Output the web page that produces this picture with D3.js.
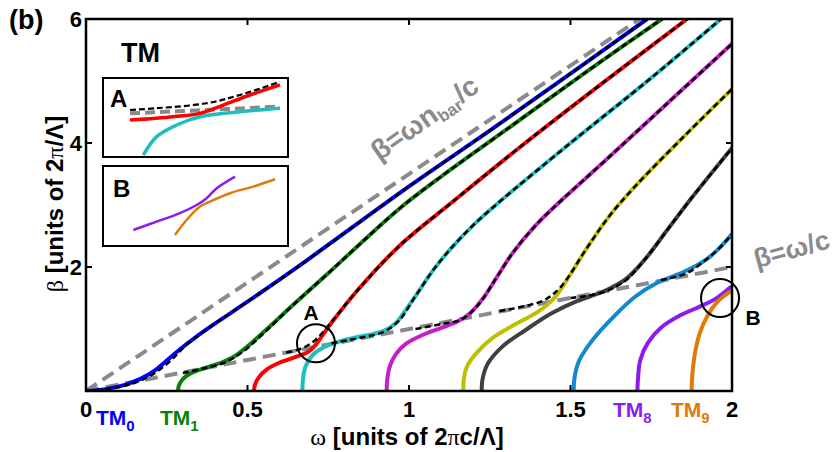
<!DOCTYPE html>
<html><head><meta charset="utf-8">
<script src="https://cdn.jsdelivr.net/npm/d3@7"></script>
<style>body{margin:0;background:#fff}svg{display:block}text{font-family:"Liberation Sans",Arial,sans-serif;font-weight:bold}</style>
</head><body>
<svg id="c" width="839" height="452"></svg>
<script>
// ---- data ----
const xTicks = [0, 0.5, 1, 1.5, 2];
const xTickLabels = ["0", "0.5", "1", "1.5", "2"];
const yTicks = [2, 4, 6];
const yTickLabels = ["2", "4", "6"];
const nBar = 3.5;
const modeColors = ["#0000ff","#0a800a","#ff0000","#1fbfbf","#c81ec8","#bfbf00","#404040","#1188d0","#8a1cf0","#e07a0a"];
const mode0 = [[0,0],[0.06,0.03],[0.12,0.1],[0.17,0.2],[0.21,0.32],[0.25,0.49],[0.29,0.67],[0.34,0.87],[0.4,1.09],[0.5,1.44],[0.663,2.03],[1.0,3.3],[1.25,4.2],[1.5,5.12],[1.737,6]];
const mode1 = [[0.285,0],[0.287,0.08],[0.295,0.16],[0.31,0.24],[0.34,0.32],[0.38,0.39],[0.42,0.46],[0.46,0.56],[0.50,0.72],[0.55,0.95],[0.65,1.43],[0.75,1.9],[0.85,2.38],[0.97,2.94],[1.1,3.46],[1.3,4.21],[1.55,5.15],[1.783,6]];
const mode2 = [[0.52,0],[0.523,0.1],[0.535,0.22],[0.56,0.35],[0.6,0.46],[0.65,0.55],[0.69,0.64],[0.715,0.77],[0.735,0.92],[0.76,1.1],[0.84,1.62],[0.97,2.34],[1.137,3.06],[1.35,3.96],[1.6,4.97],[1.861,6]];
const mode3 = [[0.67,0],[0.672,0.2],[0.68,0.4],[0.70,0.57],[0.735,0.7],[0.786,0.8],[0.84,0.87],[0.89,0.92],[0.93,0.99],[0.96,1.1],[0.985,1.27],[1.02,1.53],[1.075,1.95],[1.13,2.3],[1.2,2.68],[1.282,3.06],[1.5,4.0],[1.75,5.05],[1.966,6]];
const mode4 = [[0.931,0],[0.933,0.2],[0.942,0.42],[0.96,0.6],[0.99,0.76],[1.04,0.9],[1.1,1.02],[1.15,1.12],[1.19,1.26],[1.23,1.5],[1.27,1.82],[1.32,2.22],[1.39,2.66],[1.477,3.1],[1.6,3.68],[1.8,4.64],[2.0,5.6]];
const mode5 = [[1.168,0],[1.17,0.2],[1.18,0.4],[1.21,0.62],[1.26,0.86],[1.33,1.08],[1.40,1.28],[1.45,1.5],[1.49,1.8],[1.55,2.3],[1.62,2.82],[1.7,3.3],[1.85,4.1],[2.0,4.87]];
const mode6 = [[1.225,0],[1.228,0.2],[1.245,0.45],[1.29,0.72],[1.36,0.98],[1.44,1.25],[1.52,1.45],[1.6,1.6],[1.67,1.8],[1.73,2.12],[1.8,2.6],[1.87,3.08],[2.0,3.92]];
const mode7 = [[1.51,0],[1.512,0.2],[1.526,0.48],[1.565,0.8],[1.63,1.18],[1.7,1.52],[1.77,1.75],[1.85,1.92],[1.92,2.12],[1.96,2.3],[2.0,2.53]];
const mode8 = [[1.707,0],[1.709,0.2],[1.716,0.5],[1.74,0.78],[1.78,1.02],[1.84,1.22],[1.9,1.36],[1.95,1.49],[1.994,1.67]];
const mode9 = [[1.875,0],[1.877,0.25],[1.885,0.6],[1.9,0.93],[1.925,1.22],[1.955,1.44],[1.975,1.53],[1.994,1.6]];
// black dashed (reference model): low-frequency branch, then joins the mode from dashJoin on
const dashLow0 = [[0,0],[0.1,0.06],[0.16,0.15],[0.21,0.28],[0.26,0.48],[0.31,0.74]];
const dashLow1 = [[0.30,0.29],[0.36,0.36],[0.43,0.46],[0.49,0.65],[0.55,0.93]];
const dashLow2 = [[0.62,0.62],[0.67,0.69],[0.71,0.82],[0.745,1.02]];
const dashLow3 = [[0.76,0.77],[0.85,0.86],[0.92,0.95],[0.97,1.14]];
const dashLow4 = [[1.02,1.0],[1.1,1.08],[1.16,1.15],[1.21,1.36]];
const dashLow5 = [[1.28,1.29],[1.36,1.37],[1.42,1.47],[1.47,1.68]];
const dashLow6 = [[1.5,1.5],[1.6,1.59],[1.67,1.78]];
const dashLow7 = [[1.78,1.79],[1.86,1.9]];
const dashJoin = [0.35, 0.6, 0.79, 1.0, 1.25, 1.5, 1.72, 1.9];
// insets (magnified views, local units)
const insetADash = [[1.46,2.38],[2.9,2.47],[5.6,2.72],[7.4,3.14],[9.57,3.81]];
const insetARed = [[1.46,1.87],[3.8,2.04],[5.24,2.21],[6.5,2.63],[7.95,3.14],[9.57,3.65]];
const insetAGray = [[1.46,2.21],[9.57,2.55]];
const insetACyan = [[2.18,0.1],[2.9,1.03],[3.98,1.62],[5.24,2.04],[7.4,2.29],[9.57,2.47]];
const insetBPurple = [[1.64,0.8],[2.9,1.22],[4.16,1.64],[5.06,2.05],[5.6,2.39],[6.15,2.89],[7.14,3.47]];
const insetBOrange = [[3.89,0.55],[4.52,1.3],[5.24,1.97],[5.78,2.22],[6.86,2.64],[8.12,2.97],[9.3,3.34]];

// ---- drawing ----
const svg = d3.select("#c");
const L = 86, R = 732, T = 19, B = 391;
const x = d3.scaleLinear().domain([0, 2]).range([L, R]);
const y = d3.scaleLinear().domain([0, 6]).range([B, T]);
svg.append("defs").append("clipPath").attr("id","clip").append("rect")
  .attr("x",L).attr("y",T).attr("width",R-L).attr("height",B-T);
const g = svg.append("g").attr("clip-path","url(#clip)");
const line = d3.line().x(d=>x(d[0])).y(d=>y(d[1])).curve(d3.curveCatmullRom.alpha(0.5));
const SERIF = "Liberation Serif, DejaVu Serif, serif";

// gray reference lines
const grayLines = [[[0,0],[6/nBar,6]], [[0,0],[2,2]]];
g.selectAll(".gl").data(grayLines).join("path").attr("d", d3.line().x(d=>x(d[0])).y(d=>y(d[1])))
  .attr("fill","none").attr("stroke","#8a8a8a").attr("stroke-width",4).attr("stroke-dasharray","13,7");

const modes = [mode0,mode1,mode2,mode3,mode4,mode5,mode6,mode7,mode8,mode9];
modes.forEach((m,i)=>{
  g.append("path").attr("d", line(m)).attr("fill","none")
   .attr("stroke", modeColors[i]).attr("stroke-width",4).attr("stroke-linecap","round");
});
const dashLows = [dashLow0,dashLow1,dashLow2,dashLow3,dashLow4,dashLow5,dashLow6,dashLow7];
dashLows.forEach((dl,i)=>{
  const pts = dl.concat(modes[i].filter(p=>p[0]>=dashJoin[i]));
  g.append("path").attr("d", line(pts)).attr("fill","none")
   .attr("stroke","#000").attr("stroke-width",2.5).attr("stroke-dasharray","6,3.5");
});

// circles
[[0.712,0.77],[1.963,1.5]].forEach(c=>{
  svg.append("circle").attr("cx",x(c[0])).attr("cy",y(c[1])).attr("r",19)
    .attr("fill","none").attr("stroke","#000").attr("stroke-width",2);
});
svg.append("text").attr("x",x(0.697)).attr("y",y(1.14)).attr("text-anchor","middle").attr("font-size",21).text("A");
svg.append("text").attr("x",753).attr("y",y(1.07)).attr("text-anchor","middle").attr("font-size",21).text("B");

// axes box + ticks
svg.append("rect").attr("x",L).attr("y",T).attr("width",R-L).attr("height",B-T)
  .attr("fill","none").attr("stroke","#000").attr("stroke-width",2.5);
const tk = 6;
xTicks.slice(1,-1).forEach(v=>{
  svg.append("line").attr("x1",x(v)).attr("x2",x(v)).attr("y1",B).attr("y2",B-tk).attr("stroke","#000").attr("stroke-width",2);
  svg.append("line").attr("x1",x(v)).attr("x2",x(v)).attr("y1",T).attr("y2",T+tk).attr("stroke","#000").attr("stroke-width",2);
});
yTicks.slice(0,-1).forEach(v=>{
  svg.append("line").attr("x1",L).attr("x2",L+tk).attr("y1",y(v)).attr("y2",y(v)).attr("stroke","#000").attr("stroke-width",2);
  svg.append("line").attr("x1",R).attr("x2",R-tk).attr("y1",y(v)).attr("y2",y(v)).attr("stroke","#000").attr("stroke-width",2);
});
xTicks.forEach((v,i)=>{
  svg.append("text").attr("x",x(v)).attr("y",417).attr("text-anchor","middle").attr("font-size",22).text(xTickLabels[i]);
});
yTicks.forEach((v,i)=>{
  svg.append("text").attr("x",82).attr("y",y(v)+8).attr("text-anchor","end").attr("font-size",22).text(yTickLabels[i]);
});

// axis labels
const xl = svg.append("text").attr("x",407).attr("y",445).attr("text-anchor","middle").attr("font-size",24);
xl.append("tspan").attr("font-family",SERIF).attr("font-weight","normal").text("ω");
xl.append("tspan").text(" [units of 2");
xl.append("tspan").attr("font-family",SERIF).attr("font-weight","normal").text("π");
xl.append("tspan").text("c/Λ]");
const yl = svg.append("text").attr("transform","translate(63,204) rotate(-90)").attr("text-anchor","middle").attr("font-size",24);
yl.append("tspan").attr("font-family",SERIF).attr("font-weight","normal").text("β");
yl.append("tspan").text(" [units of 2");
yl.append("tspan").attr("font-family",SERIF).attr("font-weight","normal").text("π");
yl.append("tspan").text("/Λ]");

svg.append("text").attr("x",9).attr("y",29).attr("font-size",27).text("(b)");
svg.append("text").attr("x",121).attr("y",62).attr("font-size",27).text("TM");

// mode labels
function modeLabel(xp, yp, n, col){
  const t = svg.append("text").attr("x",xp).attr("y",yp).attr("font-size",21).attr("fill",col);
  t.append("tspan").text("TM");
  t.append("tspan").attr("font-size",15).attr("dy",6).text(n);
}
modeLabel(96,425,"0",modeColors[0]);
modeLabel(160,425,"1",modeColors[1]);
modeLabel(613,417,"8",modeColors[8]);
modeLabel(671,417,"9",modeColors[9]);

// line labels
const t1 = svg.append("text").attr("transform","translate(430,126) rotate(-35)").attr("text-anchor","middle")
  .attr("font-size",28).attr("fill","#8a8a8a");
t1.append("tspan").text("β=ωn");
t1.append("tspan").attr("font-size",17).attr("dy",5).text("bar");
t1.append("tspan").attr("dy",-5).text("/c");
svg.append("text").attr("transform","translate(794,258) rotate(-15.5)").attr("text-anchor","middle")
  .attr("font-size",27).attr("fill","#8a8a8a").text("β=ω/c");

// inset A
const ia = svg.append("g");
ia.append("rect").attr("x",103).attr("y",78).attr("width",185).attr("height",79).attr("fill","#fff").attr("stroke","#000").attr("stroke-width",2);
const ax = d3.scaleLinear().domain([0,10]).range([103,288]);
const ay = d3.scaleLinear().domain([0,4]).range([157,78]);
const la = d3.line().x(d=>ax(d[0])).y(d=>ay(d[1])).curve(d3.curveCatmullRom.alpha(0.5));
ia.append("path").attr("d",la(insetAGray)).attr("fill","none").attr("stroke","#8a8a8a").attr("stroke-width",4).attr("stroke-dasharray","10,5");
ia.append("path").attr("d",la(insetACyan)).attr("fill","none").attr("stroke",modeColors[3]).attr("stroke-width",3.5);
ia.append("path").attr("d",la(insetARed)).attr("fill","none").attr("stroke",modeColors[2]).attr("stroke-width",3.5);
ia.append("path").attr("d",la(insetADash)).attr("fill","none").attr("stroke","#000").attr("stroke-width",2.2).attr("stroke-dasharray","6,3");
ia.append("text").attr("x",110).attr("y",107).attr("font-size",24).text("A");

// inset B
const ib = svg.append("g");
ib.append("rect").attr("x",103).attr("y",166).attr("width",185).attr("height",80).attr("fill","#fff").attr("stroke","#000").attr("stroke-width",2);
const bx = d3.scaleLinear().domain([0,10]).range([103,288]);
const by = d3.scaleLinear().domain([0,4]).range([246,166]);
const lb = d3.line().x(d=>bx(d[0])).y(d=>by(d[1])).curve(d3.curveCatmullRom.alpha(0.5));
ib.append("path").attr("d",lb(insetBPurple)).attr("fill","none").attr("stroke",modeColors[8]).attr("stroke-width",2.5);
ib.append("path").attr("d",lb(insetBOrange)).attr("fill","none").attr("stroke",modeColors[9]).attr("stroke-width",2.5);
ib.append("text").attr("x",113).attr("y",197).attr("font-size",24).text("B");
</script>
</body></html>
